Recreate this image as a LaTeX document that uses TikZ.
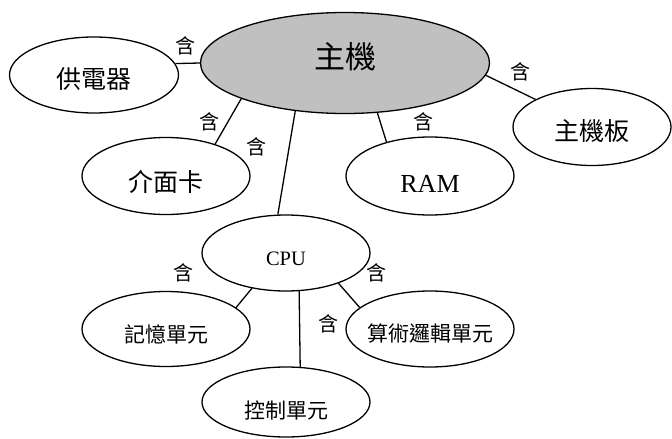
\documentclass[tikz,border=0pt]{standalone}
\usepackage{fontspec}
\setmainfont{Liberation Serif}
\newfontfamily\cjk{Noto Sans CJK TC}
\usetikzlibrary{shapes.geometric}
\tikzset{
  bub/.style={ellipse, draw, line width=1.3pt, inner sep=0pt, fill=white},
  big/.style={font=\cjk\fontsize{31}{31}\selectfont},
  mid/.style={font=\cjk\fontsize{25}{25}\selectfont},
  sml/.style={font=\cjk\fontsize{21}{21}\selectfont},
  rom/.style={font=\fontsize{26}{26}\selectfont},
  romsm/.style={font=\fontsize{20.5}{20.5}\selectfont},
  rel/.style={font=\cjk\fontsize{20}{20}\selectfont, inner sep=0pt},
  link/.style={line width=1.3pt},
}
\begin{document}
\begin{tikzpicture}[x=1pt,y=-1pt]
\useasboundingbox (0,0) rectangle (672,439);
% ellipses
\node[bub, fill={rgb,255:red,192;green,192;blue,192}, minimum width=289pt, minimum height=101pt,
  label={[big, yshift=6pt]center:主機}] (host) at (345,63) {};
\node[bub, minimum width=169pt, minimum height=76pt,
  label={[mid, yshift=-4pt]center:供電器}] (psu) at (94,75) {};
\node[bub, minimum width=168pt, minimum height=77pt,
  label={[mid, yshift=-6pt]center:介面卡}] (card) at (166,176) {};
\node[bub, minimum width=168pt, minimum height=78pt,
  label={[rom, yshift=-8pt]center:RAM}] (ram) at (430,176) {};
\node[bub, minimum width=158pt, minimum height=77pt,
  label={[mid, yshift=-4pt]center:主機板}] (mb) at (592,127) {};
\node[bub, minimum width=168pt, minimum height=76pt,
  label={[romsm, yshift=-6pt]center:CPU}] (cpu) at (286,253) {};
\node[bub, minimum width=168pt, minimum height=75pt,
  label={[sml, yshift=-5pt]center:記憶單元}] (mem) at (166,329) {};
\node[bub, minimum width=168pt, minimum height=76pt,
  label={[sml, yshift=-5pt]center:算術邏輯單元}] (alu) at (430,329) {};
\node[bub, minimum width=168pt, minimum height=70pt,
  label={[sml, yshift=-8pt]center:控制單元}] (cu) at (286,402) {};
% connectors
\draw[link] (host.180) -- (psu.8);
\draw[link] (host.199.4) -- (card.33);
\draw[link] (host.224) -- (cpu.102);
\draw[link] (host.303.4) -- (ram.142.5);
\draw[link] (host.355.2) -- (mb.154);
\draw[link] (cpu.226.7) -- (mem.17.7);
\draw[link] (cpu.289) -- (cu.68.5);
\draw[link] (cpu.330.5) -- (alu.163.4);
% relation labels
\node[rel] (r1) at (185,46) {含};
\node[rel] (r2) at (209,122) {含};
\node[rel] (r3) at (256,147) {含};
\node[rel] (r4) at (423,122) {含};
\node[rel] (r5) at (520,72) {含};
\node[rel] (r6) at (183,273) {含};
\node[rel] (r7) at (376,273) {含};
\node[rel] (r8) at (328,324) {含};
\end{tikzpicture}
\end{document}
